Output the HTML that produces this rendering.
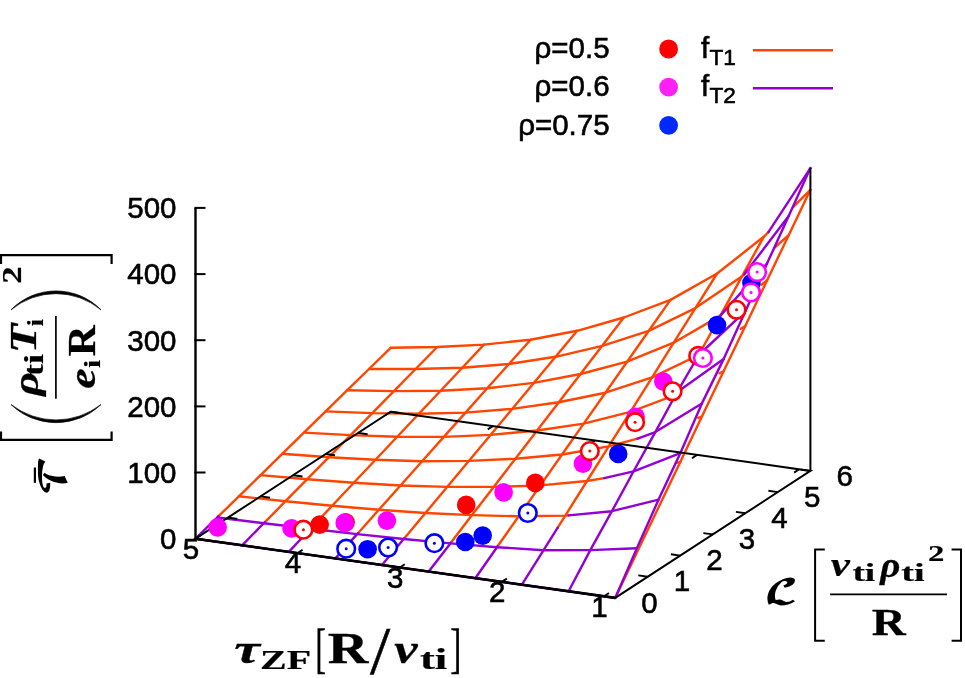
<!DOCTYPE html>
<html><head><meta charset="utf-8"><title>plot</title>
<style>html,body{margin:0;padding:0;background:#fff}svg{display:block}text{font-family:"Liberation Sans",sans-serif;fill:#000}#labels text{stroke:#000;stroke-width:0.6px}#tex text{stroke:#000;stroke-width:0.7px}#tex text.m{stroke:none}</style>
</head><body>
<svg width="965" height="678" viewBox="0 0 965 678">
<rect width="965" height="678" fill="#fff"/>
<g id="mesh">
<polyline points="615.2,597.9 636.9,552.6 658.6,507.2 680.3,461.9 701.9,416.5 723.6,371.2 745.3,325.9 767.0,280.5 788.7,235.2 810.4,189.8" fill="none" stroke="#ff4500" stroke-width="2.4" stroke-linejoin="round" stroke-linecap="round"/>
<polyline points="676.5,462.8 680.3,461.9" fill="none" stroke="#ff4500" stroke-width="2.4" stroke-linejoin="round" stroke-linecap="round"/>
<polyline points="698.2,417.9 701.9,416.5" fill="none" stroke="#ff4500" stroke-width="2.4" stroke-linejoin="round" stroke-linecap="round"/>
<polyline points="719.4,373.3 723.6,371.2" fill="none" stroke="#ff4500" stroke-width="2.4" stroke-linejoin="round" stroke-linecap="round"/>
<polyline points="740.7,328.8 745.3,325.9" fill="none" stroke="#ff4500" stroke-width="2.4" stroke-linejoin="round" stroke-linecap="round"/>
<polyline points="761.4,284.7 767.0,280.5" fill="none" stroke="#ff4500" stroke-width="2.4" stroke-linejoin="round" stroke-linecap="round"/>
<polyline points="774.7,247.5 788.7,235.2" fill="none" stroke="#ff4500" stroke-width="2.4" stroke-linejoin="round" stroke-linecap="round"/>
<polyline points="793.1,207.2 810.4,189.8" fill="none" stroke="#ff4500" stroke-width="2.4" stroke-linejoin="round" stroke-linecap="round"/>
<polyline points="238.9,496.3 285.5,501.2 332.1,505.8 378.8,509.8 425.4,513.0 472.0,515.1 518.7,516.3 565.3,515.6 568.6,515.4" fill="none" stroke="#ff4500" stroke-width="2.4" stroke-linejoin="round" stroke-linecap="round"/>
<polyline points="260.6,475.1 307.2,479.2 353.8,482.8 400.5,485.5 447.1,486.9 493.7,486.9 540.4,485.4 587.0,481.0 604.2,478.1" fill="none" stroke="#ff4500" stroke-width="2.4" stroke-linejoin="round" stroke-linecap="round"/>
<polyline points="282.2,453.8 328.9,457.2 375.5,459.8 422.1,461.2 468.8,460.9 515.4,458.7 562.0,454.5 608.7,446.4 637.6,438.6" fill="none" stroke="#ff4500" stroke-width="2.4" stroke-linejoin="round" stroke-linecap="round"/>
<polyline points="303.9,432.6 350.6,435.1 397.2,436.7 443.8,436.9 490.5,434.9 537.1,430.5 583.7,423.6 630.4,411.9 670.0,397.0" fill="none" stroke="#ff4500" stroke-width="2.4" stroke-linejoin="round" stroke-linecap="round"/>
<polyline points="325.6,411.4 372.3,413.1 418.9,413.7 465.5,412.6 512.2,408.9 558.8,402.2 605.4,392.7 652.1,377.3 698.7,355.0" fill="none" stroke="#ff4500" stroke-width="2.4" stroke-linejoin="round" stroke-linecap="round"/>
<polyline points="347.3,390.2 393.9,391.1 440.6,390.7 487.2,388.3 533.8,382.9 580.5,374.0 627.1,361.7 673.7,342.7 720.4,315.6" fill="none" stroke="#ff4500" stroke-width="2.4" stroke-linejoin="round" stroke-linecap="round"/>
<polyline points="369.0,369.0 415.6,369.0 462.3,367.7 508.9,364.0 555.5,356.8 602.2,345.8 648.8,330.8 695.4,308.1 742.1,276.2 744.4,274.2" fill="none" stroke="#ff4500" stroke-width="2.4" stroke-linejoin="round" stroke-linecap="round"/>
<polyline points="390.7,347.8 437.3,347.0 483.9,344.6 530.6,339.7 577.2,330.8 623.8,317.5 670.5,299.9 717.1,273.5 763.7,236.8 768.4,232.1" fill="none" stroke="#ff4500" stroke-width="2.4" stroke-linejoin="round" stroke-linecap="round"/>
<polyline points="218.5,516.2 238.9,496.3 260.6,475.1 282.2,453.8 303.9,432.6 325.6,411.4 347.3,390.2 369.0,369.0 390.7,347.8" fill="none" stroke="#ff4500" stroke-width="2.4" stroke-linejoin="round" stroke-linecap="round"/>
<polyline points="264.7,522.4 285.5,501.2 307.2,479.2 328.9,457.2 350.6,435.1 372.3,413.1 393.9,391.1 415.6,369.0 437.3,347.0" fill="none" stroke="#ff4500" stroke-width="2.4" stroke-linejoin="round" stroke-linecap="round"/>
<polyline points="311.3,527.9 332.1,505.8 353.8,482.8 375.5,459.8 397.2,436.7 418.9,413.7 440.6,390.7 462.3,367.7 483.9,344.6" fill="none" stroke="#ff4500" stroke-width="2.4" stroke-linejoin="round" stroke-linecap="round"/>
<polyline points="358.0,533.2 378.8,509.8 400.5,485.5 422.1,461.2 443.8,436.9 465.5,412.6 487.2,388.3 508.9,364.0 530.6,339.7" fill="none" stroke="#ff4500" stroke-width="2.4" stroke-linejoin="round" stroke-linecap="round"/>
<polyline points="404.4,538.2 425.4,513.0 447.1,486.9 468.8,460.9 490.5,434.9 512.2,408.9 533.8,382.9 555.5,356.8 577.2,330.8" fill="none" stroke="#ff4500" stroke-width="2.4" stroke-linejoin="round" stroke-linecap="round"/>
<polyline points="450.8,542.8 472.0,515.1 493.7,486.9 515.4,458.7 537.1,430.5 558.8,402.2 580.5,374.0 602.2,345.8 623.8,317.5" fill="none" stroke="#ff4500" stroke-width="2.4" stroke-linejoin="round" stroke-linecap="round"/>
<polyline points="497.6,546.3 518.7,516.3 540.4,485.4 562.0,454.5 583.7,423.6 605.4,392.7 627.1,361.7 648.8,330.8 670.5,299.9" fill="none" stroke="#ff4500" stroke-width="2.4" stroke-linejoin="round" stroke-linecap="round"/>
<polyline points="557.7,527.7 565.3,515.6 587.0,481.0 608.7,446.4 630.4,411.9 652.1,377.3 673.7,342.7 695.4,308.1 717.1,273.5" fill="none" stroke="#ff4500" stroke-width="2.4" stroke-linejoin="round" stroke-linecap="round"/>
<polyline points="698.7,355.0 720.4,315.6 742.1,276.2 763.7,236.8" fill="none" stroke="#ff4500" stroke-width="2.4" stroke-linejoin="round" stroke-linecap="round"/>
<polyline points="195.5,538.7 242.1,545.3 288.8,551.9 335.4,558.4 382.0,565.0 428.7,571.6 475.3,578.2 521.9,584.7 568.6,591.3 615.2,597.9" fill="none" stroke="#9400d3" stroke-width="2.4" stroke-linejoin="round" stroke-linecap="round"/>
<polyline points="217.2,517.5 263.8,523.2 310.5,528.8 357.1,534.1 403.7,539.0 450.4,543.4 497.0,547.2 543.6,550.2 590.3,550.1 636.9,548.2" fill="none" stroke="#9400d3" stroke-width="2.4" stroke-linejoin="round" stroke-linecap="round"/>
<polyline points="568.6,515.4 611.9,511.2 658.6,499.6" fill="none" stroke="#9400d3" stroke-width="2.4" stroke-linejoin="round" stroke-linecap="round"/>
<polyline points="604.2,478.1 633.6,471.3 680.3,453.2" fill="none" stroke="#9400d3" stroke-width="2.4" stroke-linejoin="round" stroke-linecap="round"/>
<polyline points="637.6,438.6 655.3,432.1 701.9,403.4" fill="none" stroke="#9400d3" stroke-width="2.4" stroke-linejoin="round" stroke-linecap="round"/>
<polyline points="670.0,397.0 677.0,392.3 723.6,359.1" fill="none" stroke="#9400d3" stroke-width="2.4" stroke-linejoin="round" stroke-linecap="round"/>
<polyline points="698.7,355.0 745.3,311.4" fill="none" stroke="#9400d3" stroke-width="2.4" stroke-linejoin="round" stroke-linecap="round"/>
<polyline points="720.4,315.6 767.0,263.6" fill="none" stroke="#9400d3" stroke-width="2.4" stroke-linejoin="round" stroke-linecap="round"/>
<polyline points="744.4,274.2 788.7,215.9" fill="none" stroke="#9400d3" stroke-width="2.4" stroke-linejoin="round" stroke-linecap="round"/>
<polyline points="768.4,232.1 810.4,168.1" fill="none" stroke="#9400d3" stroke-width="2.4" stroke-linejoin="round" stroke-linecap="round"/>
<polyline points="195.5,538.7 217.2,517.5 218.5,516.2" fill="none" stroke="#9400d3" stroke-width="2.4" stroke-linejoin="round" stroke-linecap="round"/>
<polyline points="242.1,545.3 263.8,523.2 264.7,522.4" fill="none" stroke="#9400d3" stroke-width="2.4" stroke-linejoin="round" stroke-linecap="round"/>
<polyline points="288.8,551.9 310.5,528.8 311.3,527.9" fill="none" stroke="#9400d3" stroke-width="2.4" stroke-linejoin="round" stroke-linecap="round"/>
<polyline points="335.4,558.4 357.1,534.1 358.0,533.2" fill="none" stroke="#9400d3" stroke-width="2.4" stroke-linejoin="round" stroke-linecap="round"/>
<polyline points="382.0,565.0 403.7,539.0 404.4,538.2" fill="none" stroke="#9400d3" stroke-width="2.4" stroke-linejoin="round" stroke-linecap="round"/>
<polyline points="428.7,571.6 450.4,543.4 450.8,542.8" fill="none" stroke="#9400d3" stroke-width="2.4" stroke-linejoin="round" stroke-linecap="round"/>
<polyline points="475.3,578.2 497.0,547.2 497.6,546.3" fill="none" stroke="#9400d3" stroke-width="2.4" stroke-linejoin="round" stroke-linecap="round"/>
<polyline points="521.9,584.7 543.6,550.2 557.7,527.7" fill="none" stroke="#9400d3" stroke-width="2.4" stroke-linejoin="round" stroke-linecap="round"/>
<polyline points="568.6,591.3 590.3,550.1 611.9,511.2 633.6,471.3 655.3,432.1 677.0,392.3 698.7,355.0" fill="none" stroke="#9400d3" stroke-width="2.4" stroke-linejoin="round" stroke-linecap="round"/>
<polyline points="615.2,597.9 636.9,548.2 658.6,499.6 680.3,453.2 701.9,403.4 723.6,359.1 745.3,311.4 767.0,263.6 788.7,215.9 810.4,168.1" fill="none" stroke="#9400d3" stroke-width="2.4" stroke-linejoin="round" stroke-linecap="round"/>
</g>
<g id="base">
<polygon points="195.5,538.7 615.2,597.9 810.4,470.9 390.7,411.7" fill="none" stroke="#000" stroke-width="2.0" stroke-linejoin="miter"/>
<line x1="195.5" y1="538.7" x2="615.2" y2="597.9" stroke="#000" stroke-width="2.6" stroke-linecap="butt"/>
<line x1="195.5" y1="538.7" x2="195.5" y2="207.9" stroke="#000" stroke-width="2.4" stroke-linecap="butt"/>
<line x1="194.4" y1="472.5" x2="205.5" y2="472.5" stroke="#000" stroke-width="2.0" stroke-linecap="butt"/>
<line x1="194.4" y1="406.4" x2="205.5" y2="406.4" stroke="#000" stroke-width="2.0" stroke-linecap="butt"/>
<line x1="194.4" y1="340.2" x2="205.5" y2="340.2" stroke="#000" stroke-width="2.0" stroke-linecap="butt"/>
<line x1="194.4" y1="274.1" x2="205.5" y2="274.1" stroke="#000" stroke-width="2.0" stroke-linecap="butt"/>
<line x1="194.4" y1="207.9" x2="205.5" y2="207.9" stroke="#000" stroke-width="2.0" stroke-linecap="butt"/>
<line x1="810.4" y1="470.9" x2="810.4" y2="168.1" stroke="#000" stroke-width="2.0" stroke-linecap="butt"/>
<line x1="604.0" y1="596.3" x2="609.0" y2="593.0" stroke="#000" stroke-width="1.9" stroke-linecap="butt"/>
<line x1="799.1" y1="469.3" x2="794.1" y2="472.6" stroke="#000" stroke-width="1.9" stroke-linecap="butt"/>
<line x1="501.8" y1="581.9" x2="506.9" y2="578.6" stroke="#000" stroke-width="1.9" stroke-linecap="butt"/>
<line x1="697.0" y1="454.9" x2="692.0" y2="458.2" stroke="#000" stroke-width="1.9" stroke-linecap="butt"/>
<line x1="399.7" y1="567.5" x2="404.8" y2="564.2" stroke="#000" stroke-width="1.9" stroke-linecap="butt"/>
<line x1="594.9" y1="440.5" x2="589.9" y2="443.8" stroke="#000" stroke-width="1.9" stroke-linecap="butt"/>
<line x1="297.6" y1="553.1" x2="302.6" y2="549.8" stroke="#000" stroke-width="1.9" stroke-linecap="butt"/>
<line x1="492.8" y1="426.1" x2="487.8" y2="429.4" stroke="#000" stroke-width="1.9" stroke-linecap="butt"/>
<line x1="195.5" y1="538.7" x2="200.5" y2="535.4" stroke="#000" stroke-width="1.9" stroke-linecap="butt"/>
<line x1="390.7" y1="411.7" x2="385.7" y2="415.0" stroke="#000" stroke-width="1.9" stroke-linecap="butt"/>
<line x1="615.2" y1="597.9" x2="605.8" y2="596.6" stroke="#000" stroke-width="1.9" stroke-linecap="butt"/>
<line x1="195.5" y1="538.7" x2="204.9" y2="540.0" stroke="#000" stroke-width="1.9" stroke-linecap="butt"/>
<line x1="647.7" y1="576.7" x2="638.3" y2="575.4" stroke="#000" stroke-width="1.9" stroke-linecap="butt"/>
<line x1="228.0" y1="517.5" x2="237.4" y2="518.9" stroke="#000" stroke-width="1.9" stroke-linecap="butt"/>
<line x1="680.3" y1="555.6" x2="670.9" y2="554.2" stroke="#000" stroke-width="1.9" stroke-linecap="butt"/>
<line x1="260.6" y1="496.4" x2="270.0" y2="497.7" stroke="#000" stroke-width="1.9" stroke-linecap="butt"/>
<line x1="712.8" y1="534.4" x2="703.4" y2="533.1" stroke="#000" stroke-width="1.9" stroke-linecap="butt"/>
<line x1="293.1" y1="475.2" x2="302.5" y2="476.5" stroke="#000" stroke-width="1.9" stroke-linecap="butt"/>
<line x1="745.3" y1="513.2" x2="735.9" y2="511.9" stroke="#000" stroke-width="1.9" stroke-linecap="butt"/>
<line x1="325.6" y1="454.0" x2="335.0" y2="455.3" stroke="#000" stroke-width="1.9" stroke-linecap="butt"/>
<line x1="777.9" y1="492.1" x2="768.4" y2="490.7" stroke="#000" stroke-width="1.9" stroke-linecap="butt"/>
<line x1="358.1" y1="432.9" x2="367.6" y2="434.2" stroke="#000" stroke-width="1.9" stroke-linecap="butt"/>
<line x1="810.4" y1="470.9" x2="801.0" y2="469.6" stroke="#000" stroke-width="1.9" stroke-linecap="butt"/>
<line x1="390.7" y1="411.7" x2="400.1" y2="413.0" stroke="#000" stroke-width="1.9" stroke-linecap="butt"/>
</g>
<g id="pts">
<circle cx="319.7" cy="524.6" r="9.3" fill="#ff0000"/>
<circle cx="345.6" cy="522.3" r="9.3" fill="#ff0000"/>
<circle cx="466.2" cy="504.8" r="9.3" fill="#ff0000"/>
<circle cx="535.3" cy="482.9" r="9.3" fill="#ff0000"/>
<circle cx="217.6" cy="527.4" r="9.3" fill="#ff00ff"/>
<circle cx="291.6" cy="528.4" r="9.3" fill="#ff00ff"/>
<circle cx="344.7" cy="522.9" r="9.3" fill="#ff00ff"/>
<circle cx="386.9" cy="520.6" r="9.3" fill="#ff00ff"/>
<circle cx="503.6" cy="492.4" r="9.3" fill="#ff00ff"/>
<circle cx="582.9" cy="463.6" r="9.3" fill="#ff00ff"/>
<circle cx="635.6" cy="416.8" r="9.3" fill="#ff00ff"/>
<circle cx="663.3" cy="381.5" r="9.3" fill="#ff00ff"/>
<circle cx="367.6" cy="549.2" r="9.3" fill="#0000ff"/>
<circle cx="465.3" cy="542.0" r="9.3" fill="#0000ff"/>
<circle cx="482.7" cy="535.6" r="9.3" fill="#0000ff"/>
<circle cx="618.2" cy="453.9" r="9.3" fill="#0000ff"/>
<circle cx="717.0" cy="325.1" r="9.3" fill="#0000ff"/>
<circle cx="751.4" cy="283.0" r="9.3" fill="#0000ff"/>
<circle cx="303.4" cy="529.7" r="8.8" fill="#fff" stroke="#ff0000" stroke-width="2.6"/><circle cx="303.4" cy="529.7" r="1.5" fill="#ff0000"/>
<circle cx="589.8" cy="451.1" r="8.8" fill="#fff" stroke="#ff0000" stroke-width="2.6"/><circle cx="589.8" cy="451.1" r="1.5" fill="#ff0000"/>
<circle cx="635.1" cy="422.2" r="8.8" fill="#fff" stroke="#ff0000" stroke-width="2.6"/><circle cx="635.1" cy="422.2" r="1.5" fill="#ff0000"/>
<circle cx="672.6" cy="391.3" r="8.8" fill="#fff" stroke="#ff0000" stroke-width="2.6"/><circle cx="672.6" cy="391.3" r="1.5" fill="#ff0000"/>
<circle cx="698.2" cy="355.9" r="8.8" fill="#fff" stroke="#ff0000" stroke-width="2.6"/><circle cx="698.2" cy="355.9" r="1.5" fill="#ff0000"/>
<circle cx="736.5" cy="309.8" r="8.8" fill="#fff" stroke="#ff0000" stroke-width="2.6"/><circle cx="736.5" cy="309.8" r="1.5" fill="#ff0000"/>
<circle cx="702.9" cy="358.0" r="8.8" fill="#fff" stroke="#ff00ff" stroke-width="2.6"/><circle cx="702.9" cy="358.0" r="1.5" fill="#ff00ff"/>
<circle cx="751.0" cy="292.4" r="8.8" fill="#fff" stroke="#ff00ff" stroke-width="2.6"/><circle cx="751.0" cy="292.4" r="1.5" fill="#ff00ff"/>
<circle cx="757.1" cy="272.1" r="8.8" fill="#fff" stroke="#ff00ff" stroke-width="2.6"/><circle cx="757.1" cy="272.1" r="1.5" fill="#ff00ff"/>
<circle cx="346.2" cy="548.7" r="8.8" fill="#fff" stroke="#0000ff" stroke-width="2.6"/><circle cx="346.2" cy="548.7" r="1.5" fill="#0000ff"/>
<circle cx="388.1" cy="547.5" r="8.8" fill="#fff" stroke="#0000ff" stroke-width="2.6"/><circle cx="388.1" cy="547.5" r="1.5" fill="#0000ff"/>
<circle cx="434.4" cy="543.2" r="8.8" fill="#fff" stroke="#0000ff" stroke-width="2.6"/><circle cx="434.4" cy="543.2" r="1.5" fill="#0000ff"/>
<circle cx="527.8" cy="513.0" r="8.8" fill="#fff" stroke="#0000ff" stroke-width="2.6"/><circle cx="527.8" cy="513.0" r="1.5" fill="#0000ff"/>
</g>
<g id="labels">
<text x="176.5" y="549.0" text-anchor="end" font-size="29.5">0</text>
<text x="176.5" y="482.8" text-anchor="end" font-size="29.5">100</text>
<text x="176.5" y="416.7" text-anchor="end" font-size="29.5">200</text>
<text x="176.5" y="350.5" text-anchor="end" font-size="29.5">300</text>
<text x="176.5" y="284.4" text-anchor="end" font-size="29.5">400</text>
<text x="176.5" y="218.2" text-anchor="end" font-size="29.5">500</text>
<text x="599.4" y="616.5" text-anchor="middle" font-size="29.5">1</text>
<text x="497.2" y="602.1" text-anchor="middle" font-size="29.5">2</text>
<text x="395.1" y="587.7" text-anchor="middle" font-size="29.5">3</text>
<text x="293.0" y="573.3" text-anchor="middle" font-size="29.5">4</text>
<text x="190.9" y="558.9" text-anchor="middle" font-size="29.5">5</text>
<text x="649.4" y="612.6" text-anchor="middle" font-size="29.5">0</text>
<text x="681.9" y="591.4" text-anchor="middle" font-size="29.5">1</text>
<text x="714.5" y="570.3" text-anchor="middle" font-size="29.5">2</text>
<text x="747.0" y="549.1" text-anchor="middle" font-size="29.5">3</text>
<text x="779.5" y="527.9" text-anchor="middle" font-size="29.5">4</text>
<text x="812.1" y="506.8" text-anchor="middle" font-size="29.5">5</text>
<text x="844.6" y="485.6" text-anchor="middle" font-size="29.5">6</text>
<text x="609.6" y="58.3" text-anchor="end" font-size="29.5">ρ=0.5</text>
<circle cx="668.6" cy="49.0" r="9.4" fill="#ff0000"/>
<text x="609.6" y="96.4" text-anchor="end" font-size="29.5">ρ=0.6</text>
<circle cx="668.6" cy="87.1" r="9.4" fill="#ff20f8"/>
<text x="609.6" y="134.7" text-anchor="end" font-size="29.5">ρ=0.75</text>
<circle cx="668.6" cy="125.4" r="9.4" fill="#0028ff"/>
<text x="701" y="57.7" font-size="29.5">f<tspan dy="7.6" font-size="22.6" dx="0.3">T1</tspan></text>
<line x1="753" y1="50.2" x2="833" y2="50.2" stroke="#ff4500" stroke-width="2.4"/>
<text x="701" y="95.8" font-size="29.5">f<tspan dy="7.6" font-size="22.6" dx="0.3">T2</tspan></text>
<line x1="753" y1="88.3" x2="833" y2="88.3" stroke="#9400d3" stroke-width="2.4"/>
</g>
<g id="tex">
<text transform="translate(234.22,662.90) scale(0.5772,0.4117)" style="font-family:'Liberation Serif',serif;font-weight:bold;font-style:italic" font-size="100">τ</text>
<text transform="translate(260.09,668.90) scale(0.3993,0.2764)" style="font-family:'Liberation Serif',serif;font-weight:bold;font-style:normal" font-size="100">ZF</text>
<text transform="translate(315.30,666.84) scale(0.3234,0.5425)" style="font-family:'Liberation Serif',serif;font-weight:normal;font-style:normal" font-size="100">[</text>
<text transform="translate(327.64,662.90) scale(0.5631,0.4459)" style="font-family:'Liberation Serif',serif;font-weight:bold;font-style:normal" font-size="100">R</text>
<text transform="translate(370.10,673.44) scale(0.7271,0.6712)" style="font-family:'Liberation Serif',serif;font-weight:normal;font-style:normal" font-size="100">/</text>
<text transform="translate(394.21,662.90) scale(0.5255,0.4113)" style="font-family:'Liberation Serif',serif;font-weight:bold;font-style:italic" font-size="100">v</text>
<text transform="translate(419.88,668.62) scale(0.4465,0.2871)" style="font-family:'Liberation Serif',serif;font-weight:bold;font-style:normal" font-size="100">ti</text>
<text transform="translate(450.30,666.84) scale(0.3324,0.5425)" style="font-family:'Liberation Serif',serif;font-weight:normal;font-style:normal" font-size="100">]</text>
<text class="m" transform="translate(764.28,603.07) scale(0.3901,0.3194)" style="font-family:'DejaVu Math TeX Gyre','DejaVu Serif',serif;font-weight:normal;font-style:normal" font-size="100">𝓛</text>
<path d="M824.8,549.5H815.1V640.7H824.8" fill="none" stroke="#000" stroke-width="2.0"/>
<path d="M951.6,549.5H961.0V640.7H951.6" fill="none" stroke="#000" stroke-width="2.0"/>
<text transform="translate(830.80,575.66) scale(0.4308,0.3474)" style="font-family:'Liberation Serif',serif;font-weight:bold;font-style:italic" font-size="100">v</text>
<text transform="translate(852.40,580.76) scale(0.3741,0.2473)" style="font-family:'Liberation Serif',serif;font-weight:bold;font-style:normal" font-size="100">ti</text>
<text transform="translate(880.37,576.55) scale(0.3914,0.3592)" style="font-family:'Liberation Serif',serif;font-weight:bold;font-style:italic" font-size="100">ρ</text>
<text transform="translate(901.29,580.76) scale(0.3810,0.2473)" style="font-family:'Liberation Serif',serif;font-weight:bold;font-style:normal" font-size="100">ti</text>
<text transform="translate(928.12,561.40) scale(0.3277,0.2235)" style="font-family:'Liberation Serif',serif;font-weight:bold;font-style:normal" font-size="100">2</text>
<line x1="830.1" y1="594.4" x2="947" y2="594.4" stroke="#000" stroke-width="1.7"/>
<text transform="translate(871.80,634.50) scale(0.4707,0.3894)" style="font-family:'Liberation Serif',serif;font-weight:bold;font-style:normal" font-size="100">R</text>
<g transform="rotate(-90)"><text class="m" transform="translate(-495.39,66.27) scale(0.3493,0.3524)" style="font-family:'DejaVu Math TeX Gyre','DejaVu Serif',serif;font-weight:normal;font-style:normal" font-size="100">𝓣</text>
<text transform="translate(-283.86,21.30) scale(0.3470,0.2764)" style="font-family:'Liberation Serif',serif;font-weight:bold;font-style:normal" font-size="100">2</text>
<text transform="translate(-395.84,38.03) scale(0.4646,0.3650)" style="font-family:'Liberation Serif',serif;font-weight:bold;font-style:italic" font-size="100">ρ</text>
<text transform="translate(-375.98,43.13) scale(0.3586,0.2757)" style="font-family:'Liberation Serif',serif;font-weight:bold;font-style:normal" font-size="100">ti</text>
<text transform="translate(-353.32,36.40) scale(0.4835,0.3711)" style="font-family:'Liberation Serif',serif;font-weight:bold;font-style:italic" font-size="100">T</text>
<text transform="translate(-326.16,43.40) scale(0.2529,0.2364)" style="font-family:'Liberation Serif',serif;font-weight:bold;font-style:normal" font-size="100">i</text>
<text transform="translate(-388.67,94.63) scale(0.4568,0.3784)" style="font-family:'Liberation Serif',serif;font-weight:bold;font-style:italic" font-size="100">e</text>
<text transform="translate(-368.04,99.70) scale(0.2902,0.2364)" style="font-family:'Liberation Serif',serif;font-weight:bold;font-style:normal" font-size="100">i</text>
<text transform="translate(-356.23,95.00) scale(0.4287,0.4017)" style="font-family:'Liberation Serif',serif;font-weight:bold;font-style:normal" font-size="100">R</text></g>
<line x1="34.9" y1="467.5" x2="34.9" y2="482.8" stroke="#000" stroke-width="2.2"/>
<path d="M1.0,431.4V439.9H111.6V431.4" fill="none" stroke="#000" stroke-width="2.2"/>
<path d="M1.0,264V255.2H111.6V264" fill="none" stroke="#000" stroke-width="2.2"/>
<line x1="55.9" y1="315.9" x2="55.9" y2="398.8" stroke="#000" stroke-width="1.7"/>
<path d="M11,404.5 A64.86,64.86 0 0 0 101,404.5 A73.26,73.26 0 0 1 11,404.5 Z" fill="#000" stroke="#000" stroke-width="0.7" stroke-linejoin="round"/>
<path d="M11,309.8 A63.14,63.14 0 0 1 101,309.8 A70.77,70.77 0 0 0 11,309.8 Z" fill="#000" stroke="#000" stroke-width="0.7" stroke-linejoin="round"/>
</g>
</svg>
</body></html>
